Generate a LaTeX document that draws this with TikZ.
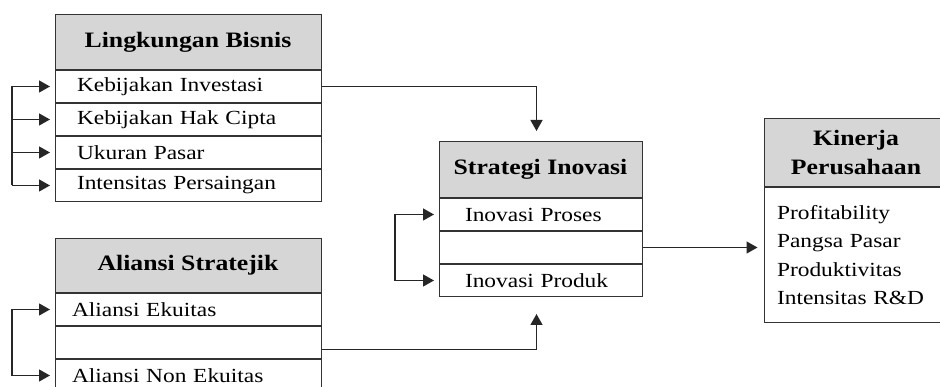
\documentclass[tikz,border=0pt]{standalone}
\usepackage{fontspec}
\setmainfont{Liberation Serif}[FakeStretch=1.17]
\usetikzlibrary{arrows.meta, positioning}
\definecolor{headGray}{gray}{0.84}
\definecolor{lineGray}{gray}{0.2}

\begin{document}
\begin{tikzpicture}[x=1pt, y=-1pt, >={Triangle[length=11pt, width=12pt]},
    head/.style={draw=lineGray, line width=1pt, fill=headGray, inner sep=0pt, align=center,
      font=\fontsize{22}{29}\selectfont\bfseries},
    row/.style 2 args={draw=lineGray, line width=1pt, minimum height=32pt, inner ysep=0pt,
      text width=#1, inner xsep=#2, align=left, font=\fontsize{20}{24}\selectfont},
    link/.style={line width=1.3pt, black!85},
    loop/.style={link, shorten >=4.5pt, shorten <=4.5pt}]
    \useasboundingbox (0,0) rectangle (940,387);
    \clip (0,0) rectangle (940,387);
    % Lingkungan Bisnis
    \node[head, minimum width=266pt, minimum height=55pt] (lb) at (188,42) {Lingkungan Bisnis};
    \node[row={222pt}{22pt}, below=0pt of lb] (lb1) {Kebijakan Investasi};
    \node[row={222pt}{22pt}, below=0pt of lb1] (lb2) {Kebijakan Hak Cipta};
    \node[row={222pt}{22pt}, below=0pt of lb2] (lb3) {Ukuran Pasar};
    \node[row={222pt}{22pt}, below=0pt of lb3] (lb4) {Intensitas Persaingan};
    % Aliansi Stratejik
    \node[head, minimum width=266pt, minimum height=54pt] (as) at (188,265.5) {Aliansi Stratejik};
    \node[row={232pt}{17pt}, below=0pt of as] (as1) {Aliansi Ekuitas};
    \node[row={232pt}{17pt}, below=0pt of as1] (as2) {};
    \node[row={232pt}{17pt}, below=0pt of as2] (as3) {Aliansi Non Ekuitas};
    % Strategi Inovasi
    \node[head, minimum width=203pt, minimum height=56pt] (si) at (540.5,169.5) {Strategi Inovasi};
    \node[row={151pt}{26pt}, below=0pt of si] (si1) {Inovasi Proses};
    \node[row={151pt}{26pt}, below=0pt of si1] (si2) {};
    \node[row={151pt}{26pt}, below=0pt of si2] (si3) {Inovasi Produk};
    % Kinerja Perusahaan
    \node[head, minimum width=184pt, minimum height=68pt] (kp) at (856,152.5) {Kinerja\\Perusahaan};
    \node[draw=lineGray, line width=1pt, below=0pt of kp, minimum height=135pt, text width=158pt,
      inner xsep=13pt, inner ysep=0pt, align=left, font=\fontsize{20}{28.5}\selectfont] (kpb)
      {Profitability\\Pangsa Pasar\\Produktivitas\\Intensitas R\&D};

    % feedback loops
    \coordinate (lbloop) at (12,0);
    \coordinate (siloop) at (395,0);
    \draw[link] (lbloop |- lb1.west) -- (lbloop |- lb4.west);
    \draw[link, ->, shorten >=4.5pt] (lbloop |- lb1.west) -- (lb1.west);
    \draw[link, ->, shorten >=4.5pt] (lbloop |- lb2.west) -- (lb2.west);
    \draw[link, ->, shorten >=4.5pt] (lbloop |- lb3.west) -- (lb3.west);
    \draw[link, ->, shorten >=4.5pt] (lbloop |- lb4.west) -- (lb4.west);
    \draw[loop, <->] (as1.west) -| (lbloop |- as1.west) |- (as3.west);
    \draw[loop, <->] (si1.west) -| (siloop |- si1.west) |- (si3.west);

    % links between the boxes
    \coordinate (sitop) at ([xshift=-4pt, yshift=10pt]si.north);
    \coordinate (sibot) at ([xshift=-4pt, yshift=-17pt]si3.south);
    \coordinate (kparr) at ([xshift=-6pt]kpb.west);
    \draw[link, ->] (lb1.east) -| (sitop);
    \draw[link, ->] ([yshift=-7pt]as2.east) -| (sibot);
    \draw[link, ->] (si2.east) -- (si2.east -| kparr);
\end{tikzpicture}
\end{document}
